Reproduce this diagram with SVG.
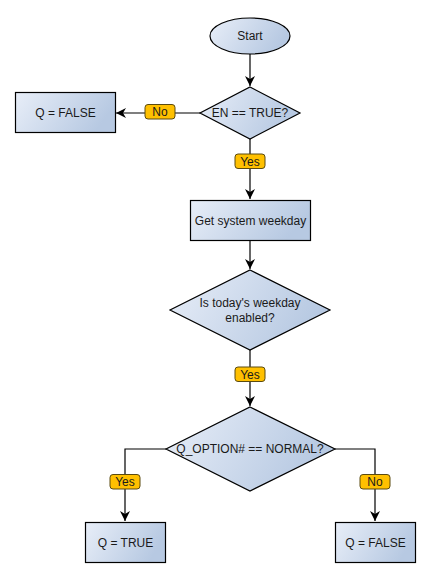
<svg xmlns="http://www.w3.org/2000/svg" width="431" height="577" viewBox="0 0 431 577">
<defs>
<linearGradient id="g" x1="0" y1="0" x2="1" y2="0.3">
<stop offset="0" stop-color="#e8eef8"/>
<stop offset="1" stop-color="#b7c9e2"/>
</linearGradient>
<marker id="arr" markerWidth="10" markerHeight="10" refX="10" refY="5" orient="auto" markerUnits="userSpaceOnUse">
<path d="M0,0 L10,5 L0,10 L3,5 z" fill="#000"/>
</marker>
<style>
.n{fill:url(#g);stroke:#000;stroke-width:1.2}
.t{font-family:"Liberation Sans",Arial,sans-serif;font-size:12px;fill:#1a1a1a;text-anchor:middle}
.c{fill:none;stroke:#000;stroke-width:1.2}
.l{fill:#ffc000;stroke:#5a4a10;stroke-width:1}
</style>
</defs>
<rect width="431" height="577" fill="#fff"/>
<g id="connectors">
<path class="c" d="M250,54 V86" marker-end="url(#arr)"/>
<path class="c" d="M200,113 H116" marker-end="url(#arr)"/>
<path class="c" d="M250,139 V199" marker-end="url(#arr)"/>
<path class="c" d="M250,240 V269" marker-end="url(#arr)"/>
<path class="c" d="M250,350 V406" marker-end="url(#arr)"/>
<path class="c" d="M166,449 H125 V521" marker-end="url(#arr)"/>
<path class="c" d="M335,449 H375 V521" marker-end="url(#arr)"/>
<g id="lbl-no1"><rect class="l" x="145" y="104.5" width="30" height="14.5" rx="3"/><text class="t" x="160" y="116">No</text></g>
<g id="lbl-yes1"><rect class="l" x="235" y="154" width="30" height="14.5" rx="3"/><text class="t" x="250" y="165.5">Yes</text></g>
<g id="lbl-yes2"><rect class="l" x="235" y="367" width="30" height="14.5" rx="3"/><text class="t" x="250" y="378.5">Yes</text></g>
<g id="lbl-yes3"><rect class="l" x="110" y="474.5" width="30" height="14.5" rx="3"/><text class="t" x="125" y="486">Yes</text></g>
<g id="lbl-no3"><rect class="l" x="360" y="474.5" width="30" height="14.5" rx="3"/><text class="t" x="375" y="486">No</text></g>
</g>
<g id="start"><ellipse class="n" cx="250" cy="36" rx="40" ry="18"/><text class="t" x="250" y="40">Start</text></g>
<g id="en"><polygon class="n" points="250,87 300,113 250,139 200,113"/><text class="t" x="250" y="117">EN == TRUE?</text></g>
<g id="qfalse1"><rect class="n" x="15.5" y="92.5" width="100" height="40"/><text class="t" x="65.5" y="116.5">Q = FALSE</text></g>
<g id="weekday"><rect class="n" x="190.5" y="200.5" width="120" height="40"/><text class="t" x="250.5" y="224.5">Get system weekday</text></g>
<g id="enabled"><polygon class="n" points="250,270 330,310 250,350 170,310"/><text class="t" x="250" y="307">Is today's weekday</text><text class="t" x="250" y="322">enabled?</text></g>
<g id="option"><polygon class="n" points="250,407 335,449 250,491 166,449"/><text class="t" x="250" y="453">Q_OPTION# == NORMAL?</text></g>
<g id="qtrue"><rect class="n" x="85.5" y="522.5" width="80" height="40"/><text class="t" x="125.5" y="546.5">Q = TRUE</text></g>
<g id="qfalse2"><rect class="n" x="335.5" y="522.5" width="80" height="40"/><text class="t" x="375.5" y="546.5">Q = FALSE</text></g>
</svg>
